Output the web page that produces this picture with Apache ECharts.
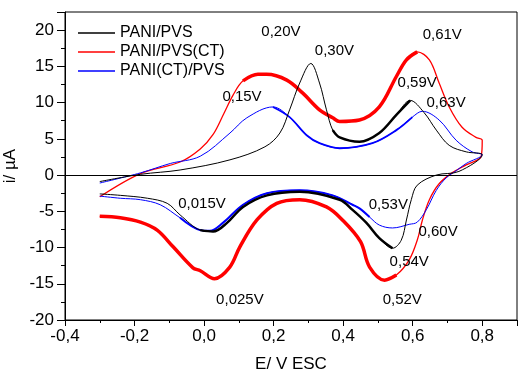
<!DOCTYPE html>
<html>
<head>
<meta charset="utf-8">
<script src="https://cdn.jsdelivr.net/npm/echarts@6/dist/echarts.min.js"></script>
<style>
html, body { margin: 0; padding: 0; background: #fff; }
#chart { width: 518px; height: 373px; }
</style>
</head>
<body>
<div id="chart"></div>
<script>
// 曲线数据 [E(V), i(µA)]，正扫 + 回扫
var pvsFwd = [[-0.3,-0.9],[-0.183,0.1],[-0.069,0.7],[0.0745,2.1],[0.175,3.9],[0.218,5.8],[0.246,9.0],[0.275,12.7],[0.307,15.4],[0.332,12.7],[0.352,9.0],[0.37,6.2],[0.39,5.2],[0.447,4.6],[0.504,5.8],[0.553,8.3],[0.593,10.3],[0.633,8.6],[0.668,6.2],[0.705,4.1],[0.754,3.2],[0.8,2.8]];
var pvsRev = [[0.8,2.8],[0.733,0.5],[0.668,0.0],[0.613,-1.4],[0.596,-3.4],[0.582,-6.2],[0.567,-9.0],[0.542,-10.1],[0.504,-8.7],[0.467,-6.6],[0.427,-4.8],[0.39,-3.4],[0.275,-2.3],[0.181,-2.8],[0.112,-4.4],[0.066,-6.6],[0.026,-7.8],[-0.011,-7.6],[-0.069,-5.5],[-0.106,-3.9],[-0.163,-3.2],[-0.241,-2.8],[-0.3,-2.6]];

var ctFwd = [[-0.3,-3.0],[-0.183,0.2],[-0.069,1.8],[-0.011,3.6],[0.026,5.6],[0.057,8.5],[0.083,11.0],[0.112,13.0],[0.155,13.9],[0.18,13.9],[0.238,13.1],[0.284,11.3],[0.332,9.0],[0.37,7.9],[0.39,7.4],[0.447,7.6],[0.504,9.4],[0.553,13.6],[0.582,15.9],[0.613,17.0],[0.648,15.9],[0.676,12.7],[0.705,9.4],[0.742,6.6],[0.782,5.2],[0.8,4.8]];
var ctRev = [[0.8,4.8],[0.797,2.6],[0.754,1.4],[0.713,0.3],[0.676,-1.2],[0.648,-3.4],[0.628,-6.2],[0.613,-9.0],[0.59,-11.7],[0.553,-13.8],[0.519,-14.5],[0.476,-12.7],[0.45,-9.2],[0.398,-6.2],[0.352,-4.4],[0.275,-3.4],[0.209,-3.9],[0.152,-6.2],[0.103,-9.9],[0.074,-12.7],[0.03,-14.3],[-0.011,-13.2],[-0.032,-12.8],[-0.089,-9.9],[-0.135,-7.6],[-0.183,-6.5],[-0.241,-5.9],[-0.3,-5.7]];

var blueFwd = [[-0.3,-1.1],[-0.183,0.3],[-0.097,1.6],[-0.011,2.6],[0.0745,5.8],[0.123,7.9],[0.198,9.4],[0.246,8.0],[0.295,5.5],[0.332,4.4],[0.39,3.7],[0.484,4.4],[0.553,6.2],[0.599,8.0],[0.628,8.8],[0.676,7.6],[0.725,4.8],[0.771,3.2],[0.8,2.8]];
var blueRev = [[0.8,2.8],[0.754,1.6],[0.725,0.6],[0.696,-0.4],[0.668,-2.1],[0.639,-4.8],[0.613,-6.5],[0.59,-6.8],[0.542,-7.3],[0.504,-6.9],[0.476,-5.8],[0.447,-4.6],[0.427,-4.1],[0.37,-2.8],[0.275,-2.1],[0.181,-2.5],[0.112,-4.1],[0.054,-6.6],[0.017,-7.7],[-0.011,-7.6],[-0.069,-5.9],[-0.126,-4.1],[-0.183,-3.4],[-0.241,-3.2],[-0.3,-2.9]];

var names = ['PANI/PVS', 'PANI/PVS(CT)', 'PANI(CT)/PVS'];
var colors = ['#000000', '#ff0000', '#0000ff'];

// 峰电位标注 [E, i, 文本]
var notes = [
    [0.221, 19.7, '0,20V'], [0.375, 17.1, '0,30V'], [0.685, 19.4, '0,61V'],
    [0.613, 12.7, '0,59V'], [0.696, 9.9, '0,63V'], [0.109, 10.8, '0,15V'],
    [-0.006, -4.0, '0,015V'], [0.103, -17.2, '0,025V'], [0.53, -4.1, '0,53V'],
    [0.673, -7.9, '0,60V'], [0.59, -12.0, '0,54V'], [0.57, -17.2, '0,52V']
];

var myChart = echarts.init(document.getElementById('chart'));

function between(arr, lo, hi) {
    return arr.filter(function (p) { return p[0] >= lo && p[0] <= hi; });
}

function line(name, color, data, width, z) {
    return {
        name: name,
        type: 'line',
        data: data,
        symbol: 'none',
        smooth: 0.35,
        z: z,
        lineStyle: { color: color, width: width },
        itemStyle: { color: color },
        animation: false
    };
}

var font = 'Liberation Sans, Arial, sans-serif';

var series = [
    line(names[1], colors[1], ctFwd.concat(ctRev), 1.3, 2),
    line(names[1], colors[1], between(ctFwd, 0.1, 0.63), 3.5, 2),
    line(names[1], colors[1], between(ctRev, -0.3, 0.56), 3.5, 2),
    line(names[2], colors[2], blueFwd.concat(blueRev), 1, 3),
    line(names[2], colors[2], between(blueFwd, 0.15, 0.6), 1.8, 3),
    line(names[2], colors[2], between(blueRev, -0.1, 0.5), 2, 3),
    line(names[0], colors[0], pvsFwd.concat(pvsRev), 1, 4),
    line(names[0], colors[0], between(pvsFwd, 0.36, 0.6), 2.5, 4),
    line(names[0], colors[0], between(pvsRev, -0.05, 0.55), 2.5, 4),
    {
        type: 'scatter',
        data: notes,
        symbolSize: 0,
        z: 5,
        silent: true,
        itemStyle: { opacity: 1 },
        label: {
            show: true,
            position: 'inside',
            formatter: function (p) { return p.data[2]; },
            color: '#000',
            fontSize: 15,
            fontFamily: font
        },
        markLine: {
            silent: true,
            symbol: 'none',
            label: { show: false },
            lineStyle: { color: '#000', width: 1, type: 'solid', opacity: 1 },
            data: [{ yAxis: 0 }],
            animation: false
        },
        animation: false
    }
];

option = {
    animation: false,
    backgroundColor: '#fff',
    grid: {
        left: 65,
        right: 1,
        top: 12,
        bottom: 53,
        outerBoundsMode: 'none',
        show: true,
        borderColor: '#000',
        borderWidth: 1
    },
    legend: {
        data: [names[0], names[1], names[2]],
        orient: 'vertical',
        left: 73,
        top: 20,
        icon: 'rect',
        itemWidth: 37,
        itemHeight: 1.5,
        itemGap: 3,
        textStyle: { fontSize: 16, fontFamily: font, color: '#000' }
    },
    xAxis: {
        type: 'value',
        min: -0.4,
        max: 0.9,
        interval: 0.2,
        name: 'E/ V ESC',
        nameLocation: 'middle',
        nameGap: 36,
        nameTextStyle: { fontSize: 17, fontFamily: font, color: '#000' },
        splitLine: { show: false },
        axisLine: { onZero: false, lineStyle: { color: '#000' } },
        axisTick: { length: 6, lineStyle: { color: '#000' } },
        minorTick: { show: true, splitNumber: 2, length: 3, lineStyle: { color: '#000' } },
        axisLabel: {
            showMaxLabel: false,
            margin: 8,
            color: '#000',
            fontSize: 17,
            fontFamily: font,
            formatter: function (v) { return v.toFixed(1).replace('.', ','); }
        }
    },
    yAxis: {
        type: 'value',
        min: -20,
        max: 22.5,
        interval: 5,
        name: 'i/ µA',
        nameLocation: 'middle',
        nameGap: 38,
        nameTextStyle: { fontSize: 17, fontFamily: font, color: '#000' },
        splitLine: { show: false },
        axisLine: { onZero: false, lineStyle: { color: '#000' } },
        axisTick: { length: 8, lineStyle: { color: '#000' } },
        minorTick: { show: true, splitNumber: 2, length: 4, lineStyle: { color: '#000' } },
        axisLabel: {
            showMaxLabel: false,
            margin: 11,
            color: '#000',
            fontSize: 17,
            fontFamily: font
        }
    },
    tooltip: { show: false },
    series: series
};

myChart.setOption(option);
</script>
</body>
</html>
